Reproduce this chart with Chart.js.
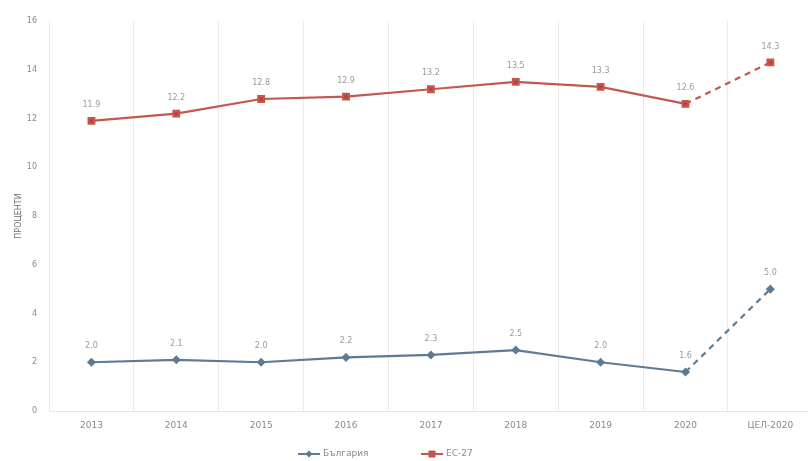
<!DOCTYPE html>
<html>
<head>
<meta charset="utf-8">
<script src="https://cdn.jsdelivr.net/npm/chart.js@4"></script>
<style>
html,body{margin:0;padding:0;background:#fff;overflow:hidden;}
#wrap{width:819px;height:461px;}
</style>
</head>
<body>
<div id="wrap"><canvas id="c" width="819" height="461"></canvas></div>
<script>
const categories = ['2013','2014','2015','2016','2017','2018','2019','2020','ЦЕЛ-2020'];
const bulgaria = [2.0, 2.1, 2.0, 2.2, 2.3, 2.5, 2.0, 1.6, 5.0];
const eu27 = [11.9, 12.2, 12.8, 12.9, 13.2, 13.5, 13.3, 12.6, 14.3];
const seriesNames = ['България', 'ЕС-27'];
const yTitle = 'ПРОЦЕНТИ';

const BG_COLOR = '#5d7b95';
const EU_COLOR = '#c4574f';
const FONT = "'DejaVu Sans', sans-serif";

const dashLast = (ctx) => ctx.p1DataIndex === categories.length - 1 ? [6, 5] : undefined;

const valueLabels = {
  id: 'valueLabels',
  afterDatasetsDraw(chart) {
    const ctx = chart.ctx;
    ctx.save();
    ctx.font = "8px " + FONT;
    ctx.fillStyle = '#9a9a9a';
    ctx.textAlign = 'center';
    ctx.textBaseline = 'bottom';
    chart.data.datasets.forEach((ds, i) => {
      const meta = chart.getDatasetMeta(i);
      meta.data.forEach((pt, j) => {
        ctx.fillText(ds.data[j].toFixed(1), pt.x, pt.y - 12);
      });
    });
    ctx.restore();
  }
};

const customLegend = {
  id: 'customLegend',
  afterDraw(chart) {
    const ctx = chart.ctx;
    const y = 454;
    const items = [
      {x: 298, color: BG_COLOR, style: 'diamond', text: seriesNames[0]},
      {x: 421, color: EU_COLOR, style: 'square', text: seriesNames[1]}
    ];
    ctx.save();
    ctx.font = "9px " + FONT;
    ctx.textBaseline = 'middle';
    items.forEach(it => {
      ctx.strokeStyle = it.color;
      ctx.lineWidth = 2;
      ctx.beginPath();
      ctx.moveTo(it.x, y);
      ctx.lineTo(it.x + 22, y);
      ctx.stroke();
      ctx.fillStyle = it.color;
      const cx = it.x + 11;
      if (it.style === 'square') {
        ctx.fillRect(cx - 3.5, y - 3.5, 7, 7);
      } else {
        ctx.beginPath();
        ctx.moveTo(cx, y - 3.5); ctx.lineTo(cx + 3.5, y); ctx.lineTo(cx, y + 3.5); ctx.lineTo(cx - 3.5, y);
        ctx.closePath(); ctx.fill();
      }
      ctx.fillStyle = '#8a8a8a';
      ctx.textAlign = 'left';
      ctx.fillText(it.text, it.x + 25, y);
    });
    ctx.restore();
  }
};

new Chart(document.getElementById('c'), {
  type: 'line',
  data: {
    labels: categories,
    datasets: [
      {
        label: seriesNames[0],
        data: bulgaria,
        borderColor: BG_COLOR,
        backgroundColor: BG_COLOR,
        borderWidth: 2.2,
        pointStyle: 'rectRot',
        pointRadius: 3,
        pointHoverRadius: 3,
        tension: 0,
        segment: { borderDash: dashLast }
      },
      {
        label: seriesNames[1],
        data: eu27,
        borderColor: EU_COLOR,
        backgroundColor: '#b8433d',
        borderWidth: 2.2,
        pointStyle: 'rect',
        pointRadius: 4,
        pointHoverRadius: 4,
        tension: 0,
        segment: { borderDash: dashLast }
      }
    ]
  },
  options: {
    responsive: false,
    animation: false,
    layout: { padding: { top: 21, right: 0, bottom: 0, left: 0 } },
    plugins: {
      legend: { display: false },
      tooltip: { enabled: false }
    },
    scales: {
      x: {
        offset: true,
        grid: { offset: true, color: '#ebebeb', drawTicks: false, lineWidth: 1 },
        border: { color: '#e6e6e6' },
        ticks: { color: '#8a8a8a', font: { family: FONT, size: 9 }, padding: 9, maxRotation: 0 },
        afterFit(s) { s.height = 50; }
      },
      y: {
        min: 0, max: 16,
        ticks: { stepSize: 2, color: '#8a8a8a', font: { family: FONT, size: 8 }, padding: 12 },
        grid: { display: false, drawTicks: false },
        border: { display: false },
        title: { display: true, text: yTitle, color: '#6f6f6f', font: { family: FONT, size: 8 }, padding: { top: 14, bottom: 0 } },
        afterFit(s) { s.width = 49; }
      }
    }
  },
  plugins: [valueLabels, customLegend]
});
</script>
</body>
</html>
